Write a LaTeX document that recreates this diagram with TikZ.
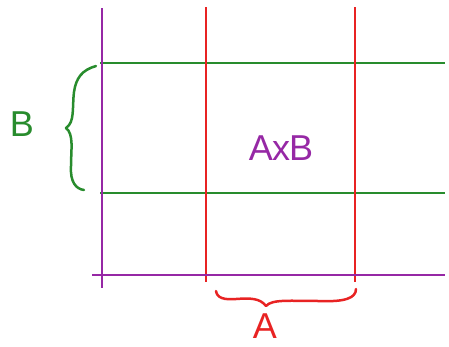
\documentclass[tikz,border=0pt]{standalone}
\usepackage{fontspec}
\setmainfont{Liberation Sans}
\definecolor{pur}{RGB}{150,40,165}
\definecolor{rd}{RGB}{232,35,35}
\definecolor{gr}{RGB}{40,140,45}
\begin{document}
\begin{tikzpicture}[x=1pt,y=-1pt,
  ln/.style={line width=2.5pt},
  brc/.style={line width=2.5pt,line cap=round,line join=round},
  lbl/.style={font=\fontsize{36}{40}\selectfont,inner sep=0pt}]
\useasboundingbox (0,0) rectangle (449,346);
% coordinates
\coordinate (pv1) at (102,8);   \coordinate (pv2) at (102,288);
\coordinate (ph1) at (92,275);  \coordinate (ph2) at (445,275);
\coordinate (r1a) at (206,7);   \coordinate (r1b) at (206,282);
\coordinate (r2a) at (355,7);   \coordinate (r2b) at (355,282);
\coordinate (g1a) at (100,63);  \coordinate (g1b) at (445,63);
\coordinate (g2a) at (100,193); \coordinate (g2b) at (445,193);
% green lines
\draw[ln,gr] (g1a) -- (g1b);
\draw[ln,gr] (g2a) -- (g2b);
% red lines
\draw[ln,rd] (r1a) -- (r1b);
\draw[ln,rd] (r2a) -- (r2b);
% purple axes
\draw[ln,pur] (pv1) -- (pv2);
\draw[ln,pur] (ph1) -- (ph2);
% green brace
\draw[brc,gr] (96,66) .. controls (82,70) and (76,78) .. (74,92)
  .. controls (72,108) and (75,122) .. (66,128)
  .. controls (74,134) and (71,150) .. (71,166)
  .. controls (70,182) and (76,189) .. (84,190);
% red brace
\draw[brc,rd] (216,291) .. controls (217,298) and (224,300) .. (236,299)
  .. controls (250,298) and (260,298) .. (266,306)
  .. controls (272,299) and (290,301) .. (320,301)
  .. controls (345,302) and (356,298) .. (356,289);
% labels
\node[lbl,gr] (B) at (22,124) {B};
\node[lbl,pur] (AxB) at (281,148) {A\kern-1pt x\kern-1pt B};
\node[lbl,rd] (A) at (265,326) {A};
\end{tikzpicture}
\end{document}
